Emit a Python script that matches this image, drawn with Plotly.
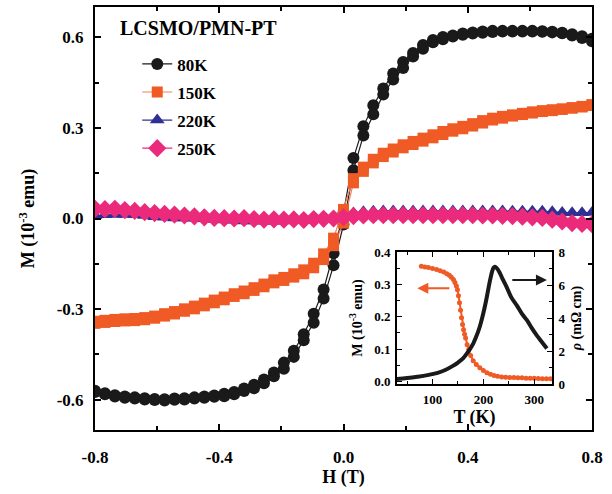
import plotly.graph_objects as go

# ---------------- data: M-H loops (field in T, M in 1e-3 emu) ----------------
H = [-0.800, -0.768, -0.736, -0.704, -0.672, -0.640, -0.608, -0.576, -0.544, -0.512,
     -0.480, -0.448, -0.416, -0.384, -0.352, -0.320, -0.288, -0.256, -0.224, -0.192,
     -0.160, -0.128, -0.096, -0.064, -0.032, 0.000, 0.032, 0.064, 0.096, 0.128,
     0.160, 0.192, 0.224, 0.256, 0.288, 0.320, 0.352, 0.384, 0.416, 0.448,
     0.480, 0.512, 0.544, 0.576, 0.608, 0.640, 0.672, 0.704, 0.736, 0.768, 0.800]

# 80 K, descending-field branch and ascending-field branch (values listed at H above)
M80_down = [-0.570, -0.578, -0.585, -0.589, -0.592, -0.595, -0.597, -0.598, -0.596, -0.595,
            -0.592, -0.589, -0.586, -0.580, -0.574, -0.563, -0.550, -0.533, -0.510, -0.477,
            -0.438, -0.383, -0.315, -0.235, -0.115, 0.020, 0.200, 0.305, 0.375, 0.430,
            0.480, 0.518, 0.548, 0.574, 0.591, 0.601, 0.606, 0.612, 0.616, 0.619,
            0.621, 0.621, 0.621, 0.621, 0.621, 0.620, 0.618, 0.615, 0.610, 0.603, 0.595]
M80_up = [-0.574, -0.582, -0.589, -0.593, -0.596, -0.599, -0.601, -0.602, -0.600, -0.599,
          -0.596, -0.593, -0.590, -0.588, -0.582, -0.571, -0.562, -0.545, -0.522, -0.497,
          -0.458, -0.403, -0.345, -0.265, -0.155, -0.020, 0.160, 0.275, 0.345, 0.410,
          0.460, 0.498, 0.536, 0.562, 0.583, 0.593, 0.602, 0.608, 0.612, 0.615,
          0.617, 0.619, 0.619, 0.619, 0.619, 0.618, 0.616, 0.613, 0.606, 0.597, 0.587]

# 150 K
M150_down = [-0.340, -0.337, -0.334, -0.332, -0.331, -0.328, -0.323, -0.315, -0.308, -0.299,
             -0.290, -0.280, -0.270, -0.260, -0.249, -0.240, -0.229, -0.217, -0.203, -0.195,
             -0.183, -0.170, -0.148, -0.117, -0.065, 0.030, 0.132, 0.170, 0.196, 0.216,
             0.230, 0.244, 0.255, 0.266, 0.277, 0.288, 0.297, 0.305, 0.314, 0.324,
             0.332, 0.338, 0.343, 0.348, 0.353, 0.357, 0.360, 0.363, 0.367, 0.371, 0.377]
M150_up = [-0.347, -0.344, -0.341, -0.339, -0.338, -0.335, -0.330, -0.323, -0.316, -0.307,
           -0.299, -0.289, -0.279, -0.269, -0.258, -0.249, -0.238, -0.226, -0.213, -0.205,
           -0.194, -0.183, -0.163, -0.136, -0.090, -0.015, 0.118, 0.156, 0.184, 0.205,
           0.220, 0.234, 0.245, 0.256, 0.267, 0.278, 0.289, 0.297, 0.306, 0.316,
           0.326, 0.332, 0.339, 0.344, 0.349, 0.354, 0.357, 0.361, 0.365, 0.369, 0.374]

# 220 K
M220 = [0.010, 0.012, 0.013, 0.013, 0.012, 0.010, 0.006, 0.004, 0.002, 0.002,
        0.001, -0.001, -0.003, -0.005, -0.006, -0.008, -0.008, -0.009, -0.009, -0.008,
        -0.007, -0.006, -0.004, -0.002, 0.000, 0.008, 0.018, 0.022, 0.024, 0.025,
        0.025, 0.025, 0.025, 0.025, 0.025, 0.025, 0.025, 0.025, 0.025, 0.025,
        0.025, 0.025, 0.024, 0.024, 0.024, 0.024, 0.022, 0.020, 0.019, 0.019, 0.020]

# 250 K
M250 = [0.032, 0.031, 0.032, 0.028, 0.025, 0.021, 0.018, 0.015, 0.013, 0.010,
        0.007, 0.004, 0.002, 0.001, 0.000, 0.001, -0.002, -0.004, -0.003, -0.004,
        -0.003, -0.005, -0.002, -0.001, 0.000, 0.004, 0.008, 0.010, 0.011, 0.011,
        0.011, 0.011, 0.011, 0.011, 0.011, 0.011, 0.011, 0.011, 0.011, 0.010,
        0.010, 0.009, 0.008, 0.006, 0.004, 0.002, -0.004, -0.010, -0.015, -0.018, -0.019]

# ---------------- data: inset ----------------
T_M = [78, 85, 92, 100, 108, 115, 122, 128, 133, 137, 141, 144, 147, 149, 151, 153, 155, 157,
       159, 161, 163, 165, 168, 171, 175, 180, 186, 193, 200, 207, 214, 221, 228, 236, 244,
       252, 260, 268, 276, 284, 292, 300, 308, 316, 324, 332]
M_T = [0.356, 0.354, 0.352, 0.349, 0.346, 0.342, 0.338, 0.333, 0.328, 0.322, 0.315, 0.306,
       0.295, 0.283, 0.265, 0.243, 0.220, 0.197, 0.176, 0.160, 0.146, 0.134, 0.113, 0.098,
       0.080, 0.064, 0.052, 0.042, 0.034, 0.027, 0.022, 0.018, 0.016, 0.014, 0.013,
       0.012, 0.012, 0.011, 0.011, 0.010, 0.010, 0.0095, 0.009, 0.0085, 0.008, 0.008]

T_rho = [30, 50, 70, 90, 110, 125, 140, 150, 160, 170, 180, 185, 190, 195, 200, 205, 210,
         215, 220, 223, 227, 232, 238, 246, 255, 266, 276, 286, 295, 305, 315, 325]
rho = [0.30, 0.36, 0.44, 0.54, 0.68, 0.85, 1.10, 1.30, 1.55, 1.95, 2.45, 2.80, 3.20, 3.70,
       4.30, 5.00, 5.80, 6.55, 7.05, 7.10, 7.00, 6.75, 6.35, 5.86, 5.25, 4.75, 4.25, 3.85,
       3.40, 2.95, 2.55, 2.15]

# tick labels
x_ticks = [-0.8, -0.4, 0.0, 0.4, 0.8]
x_ticktext = ["-0.8", "-0.4", "0.0", "0.4", "0.8"]
y_ticks = [-0.6, -0.3, 0.0, 0.3, 0.6]
y_ticktext = ["-0.6", "-0.3", "0.0", "0.3", "0.6"]

BLACK = "#1a1a1a"
ORANGE = "#F05A24"
BLUE = "#2E3192"
PINK = "#EC2A7C"
FONT = "Liberation Serif"

fig = go.Figure()

def loop(hvals, down, up):
    xs = list(reversed(hvals)) + list(hvals)
    ys = list(reversed(down)) + list(up)
    return xs, ys

x80, y80 = loop(H, M80_down, M80_up)
fig.add_trace(go.Scatter(x=x80, y=y80, mode="lines+markers", name="80K", legendgroup="g0",
                         line=dict(color=BLACK, width=1.2),
                         marker=dict(symbol="circle", size=12, color=BLACK)))
x150, y150 = loop(H, M150_down, M150_up)
fig.add_trace(go.Scatter(x=x150, y=y150, mode="lines+markers", name="150K", legendgroup="g1",
                         line=dict(color="#F4805F", width=1.2),
                         marker=dict(symbol="square", size=11, color=ORANGE)))
fig.add_trace(go.Scatter(x=H, y=M220, mode="lines+markers", name="220K", legendgroup="g2",
                         line=dict(color=BLUE, width=1.2),
                         marker=dict(symbol="triangle-up", size=13, color=BLUE)))
fig.add_trace(go.Scatter(x=H, y=M250, mode="lines+markers", name="250K", legendgroup="g3",
                         line=dict(color=PINK, width=1.2),
                         marker=dict(symbol="diamond", size=14, color=PINK)))

# inset traces
fig.add_trace(go.Scatter(x=T_rho, y=rho, mode="lines", showlegend=False,
                         line=dict(color=BLACK, width=4, shape="spline"),
                         xaxis="x2", yaxis="y3"))
fig.add_trace(go.Scatter(x=T_M, y=M_T, mode="lines+markers", showlegend=False,
                         line=dict(color=ORANGE, width=2),
                         marker=dict(size=5, color=ORANGE),
                         xaxis="x2", yaxis="y2"))

axis_common = dict(showline=True, linecolor="black", linewidth=2, ticks="inside",
                   tickcolor="black", tickwidth=1.5, ticklen=6, showgrid=False,
                   zeroline=False, mirror="ticks", automargin=False,
                   tickfont=dict(family=FONT, size=17, color="black", weight="bold"))

inset_common = dict(showline=True, linecolor="black", linewidth=1.8, ticks="inside",
                    tickcolor="black", tickwidth=1.2, ticklen=5, showgrid=False,
                    zeroline=False, automargin=False, ticklabelstandoff=2,
                    tickfont=dict(family=FONT, size=13, color="black", weight="bold"))

fig.update_layout(
    width=612, height=494,
    margin=dict(l=95, r=20, t=7, b=64, autoexpand=False),
    paper_bgcolor="white", plot_bgcolor="white",
    font=dict(family=FONT, size=16, color="black", weight="bold"),
    xaxis=dict(range=[-0.8, 0.8], tickvals=x_ticks, ticktext=x_ticktext,
               minor=dict(tickvals=[-0.6, -0.2, 0.2, 0.6], ticks="inside", ticklen=4,
                          tickcolor="black", tickwidth=1.5),
               ticklabelstandoff=11,
               title=dict(text="H (T)", font=dict(family=FONT, size=18, weight="bold"), standoff=2),
               **axis_common),
    yaxis=dict(range=[-0.7, 0.7], tickvals=y_ticks, ticktext=y_ticktext,
               minor=dict(tickvals=[-0.45, -0.15, 0.15, 0.45], ticks="inside", ticklen=4,
                          tickcolor="black", tickwidth=1.5),
               ticklabelstandoff=6,
               title=dict(text="M (10<sup>-3</sup> emu)", font=dict(family=FONT, size=18, weight="bold"), standoff=17),
               **axis_common),
    xaxis2=dict(domain=[0.6076, 0.9195], anchor="y2", range=[30, 335],
                tickvals=[100, 200, 300],
                minor=dict(tickvals=[50, 150, 250], ticks="inside", ticklen=3,
                           tickcolor="black", tickwidth=1.2),
                mirror="ticks",
                title=dict(text="T (K)", font=dict(family=FONT, size=18, weight="bold"), standoff=1),
                **inset_common),
    yaxis2=dict(domain=[0.1087, 0.4208], anchor="x2", range=[-0.008, 0.4],
                tickvals=[0.0, 0.1, 0.2, 0.3, 0.4], ticktext=["0.0", "0.1", "0.2", "0.3", "0.4"],
                minor=dict(tickvals=[0.05, 0.15, 0.25, 0.35], ticks="inside", ticklen=3,
                           tickcolor="black", tickwidth=1.2),
                mirror=True,
                title=dict(text="M (10<sup>-3</sup> emu)", font=dict(family=FONT, size=14, weight="bold"), standoff=8),
                **inset_common),
    yaxis3=dict(overlaying="y2", anchor="x2", side="right", range=[0, 8],
                tickvals=[0, 2, 4, 6, 8],
                minor=dict(tickvals=[1, 3, 5, 7], ticks="inside", ticklen=3,
                           tickcolor="black", tickwidth=1.2),
                title=dict(text="<i>ρ</i> (mΩ cm)", font=dict(family=FONT, size=14, weight="bold"), standoff=7),
                **inset_common),
    legend=dict(x=0.085, y=0.907, xanchor="left", yanchor="top", bgcolor="rgba(0,0,0,0)",
                borderwidth=0, font=dict(family=FONT, size=17, color="black", weight="bold"),
                tracegroupgap=3),
    showlegend=True,
)

fig.add_annotation(text="LCSMO/PMN-PT", x=0.209, y=0.95, xref="paper", yref="paper",
                   xanchor="center", yanchor="middle",
                   showarrow=False, font=dict(family=FONT, size=20, color="black", weight="bold"))

# inset arrows
fig.add_annotation(x=70, y=0.288, ax=136, ay=0.288, xref="x2", yref="y2", axref="x2", ayref="y2",
                   text="", showarrow=True, arrowhead=2, arrowsize=1.1, arrowwidth=2,
                   arrowcolor=ORANGE)
fig.add_annotation(x=325, y=6.3, ax=254, ay=6.3, xref="x2", yref="y3", axref="x2", ayref="y3",
                   text="", showarrow=True, arrowhead=2, arrowsize=1.1, arrowwidth=2,
                   arrowcolor=BLACK)

fig.write_html("out.html")
